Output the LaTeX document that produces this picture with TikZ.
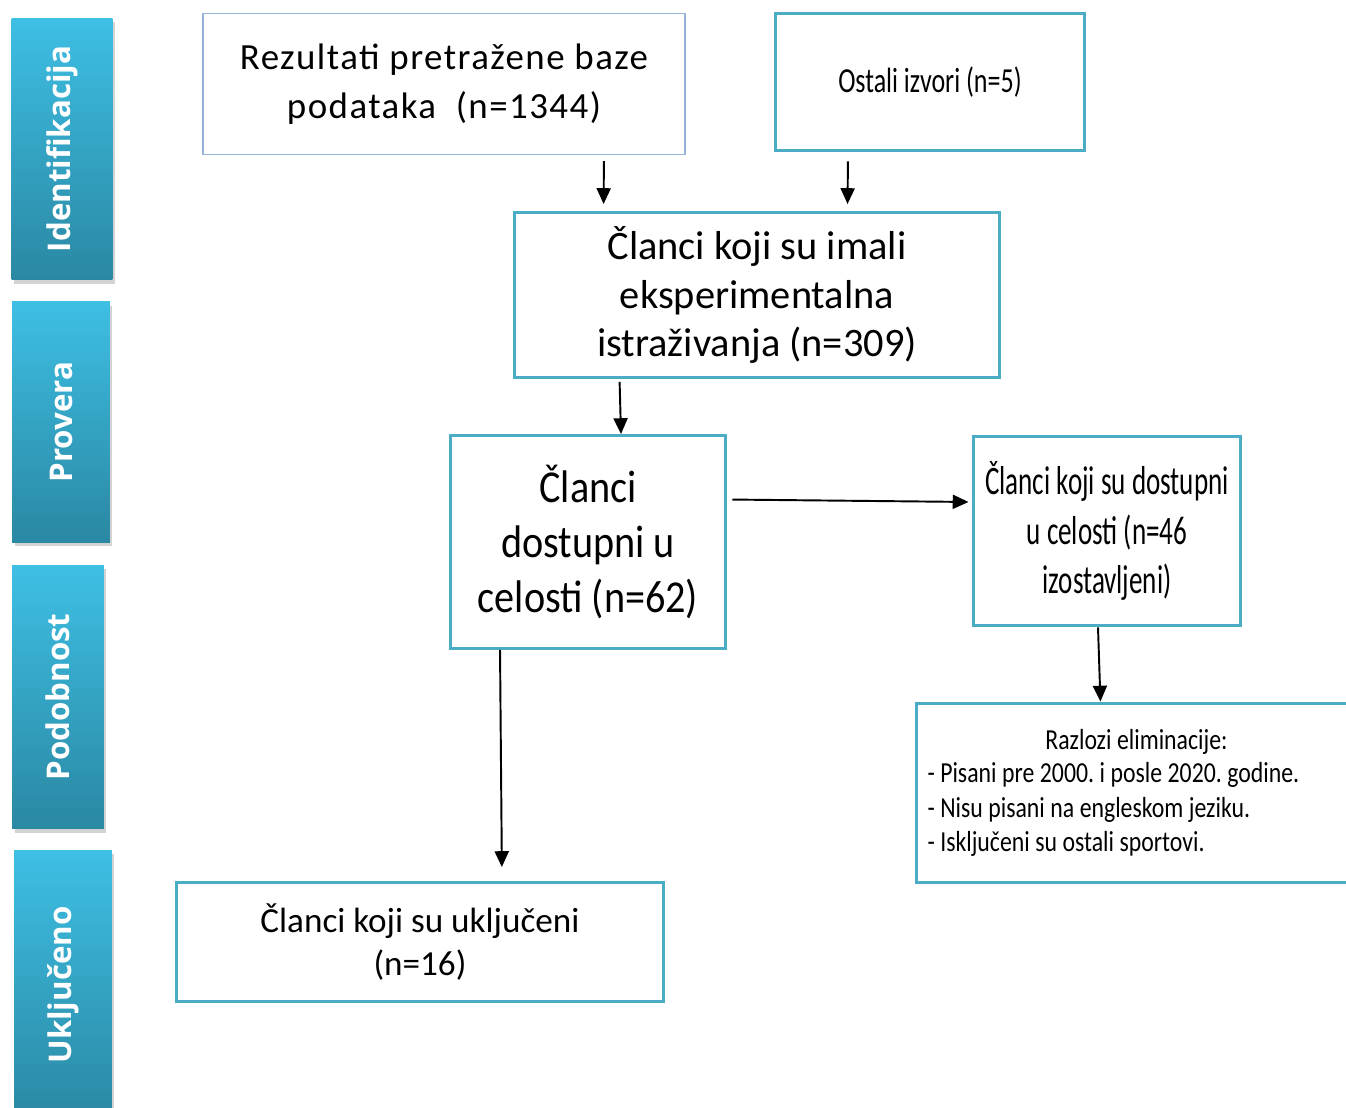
\documentclass[tikz,border=0pt]{standalone}
\usepackage{fontspec}
\setmainfont{Carlito}
\newfontfamily\wideCal[LetterSpace=4]{Carlito}
\newfontfamily\narrowCal[FakeStretch=0.74]{Carlito}
\newfontfamily\listCal[FakeStretch=0.82]{Carlito}
\newfontfamily\slimCal[FakeStretch=0.67]{Carlito}
\newfontfamily\tallCal[FakeStretch=0.88]{Carlito}
\newfontfamily\barfont{Open Sans}
\usetikzlibrary{arrows,arrows.meta,shadows}
\definecolor{boxblue}{HTML}{4BACC6}
\definecolor{paleblue}{HTML}{95B3D7}
\definecolor{bartop}{HTML}{3EBFE4}
\definecolor{barbot}{HTML}{2A88A3}

\begin{document}
\begin{tikzpicture}[x=0.02cm,y=-0.02cm]
	\tikzset{box/.style = {shape=rectangle,draw=boxblue,line width=1.7pt,
			align=center,inner sep=0pt}}
	\tikzset{stage/.style = {shape=rectangle,rotate=90,top color=bartop,
			bottom color=barbot,text=white,inner sep=0pt,
			drop shadow={opacity=0.35,shadow xshift=0.5mm,shadow yshift=-0.8mm},
			font=\barfont\bfseries\fontsize{17.8}{21}\selectfont}}
	\tikzset{edge/.style = {->,> = {Triangle[width=8pt,length=9pt]},line width=1.1pt}}
	\useasboundingbox (0,0) rectangle (1346,1108);
	% stages
	\node[stage,minimum width=5.24cm,minimum height=2.02cm] (ident) at (62,149) {Identifikacija};
	\node[stage,minimum width=4.82cm,minimum height=1.96cm] (prov) at (61,422) {Provera};
	\node[stage,minimum width=5.28cm,minimum height=1.84cm] (podob) at (58,697) {Podobnost};
	\node[stage,minimum width=5.4cm,minimum height=1.96cm] (uklj) at (63,985) {Uključeno};
	% boxes
	\node[box,draw=paleblue,line width=0.8pt,minimum width=9.64cm,minimum height=2.82cm,
		font=\wideCal\fontsize{21}{28}\selectfont] (rez) at (444,84)
		{Rezultati pretražene baze\\podataka~~(n=1344)};
	\node[box,minimum width=6.2cm,minimum height=2.76cm,
		font=\narrowCal\fontsize{20}{24}\selectfont] (ostali) at (930,82) {Ostali izvori (n=5)};
	\node[box,minimum width=9.7cm,minimum height=3.3cm,
		font=\fontsize{23}{27.5}\selectfont] (eksp) at (757,295)
		{Članci koji su imali\\eksperimentalna\\istraživanja (n=309)};
	\node[box,minimum width=5.52cm,minimum height=4.26cm,
		font=\tallCal\fontsize{26}{31.5}\selectfont] (dost) at (588,542)
		{Članci\\dostupni u\\celosti (n=62)};
	\node[box,minimum width=5.36cm,minimum height=3.8cm,
		font=\slimCal\fontsize{23}{28}\selectfont] (izost) at (1107,531)
		{Članci koji su dostupni\\u celosti (n=46\\izostavljeni)};
	\node[box,anchor=west,inner xsep=0.22cm,text width=8.36cm,minimum height=3.6cm,align=left,
		font=\listCal\fontsize{16.5}{19.8}\selectfont,
		execute at begin node={\spaceskip=0.19em\xspaceskip=0.19em\relax}] (razl) at (915,793)
		{\makebox[\linewidth]{Razlozi eliminacije:}\\[-1pt]
		- Pisani pre 2000. i posle 2020. godine.\\
		- Nisu pisani na engleskom jeziku.\\
		- Isključeni su ostali sportovi.};
	\node[box,minimum width=9.76cm,minimum height=2.38cm,
		font=\fontsize{20}{24.5}\selectfont] (ukl) at (420,942)
		{Članci koji su uključeni\\(n=16)};
	% edges
	\draw[edge,shorten <=0.12cm,shorten >=0.14cm] ([xshift=3.2cm]rez.south) -- ([xshift=-3.07cm]eksp.north);
	\draw[edge,shorten <=0.18cm,shorten >=0.14cm] ([xshift=-1.64cm]ostali.south) -- ([xshift=1.81cm]eksp.north);
	\draw[edge,shorten <=0.06cm] ([xshift=-2.75cm]eksp.south) -- ([xshift=0.66cm]dost.north);
	\draw[edge,shorten <=0.1cm,shorten >=0.06cm] ([yshift=0.85cm]dost.east) -- ([yshift=0.58cm]izost.west);
	\draw[edge] ([xshift=-0.18cm]izost.south) -- ([xshift=-0.72cm]razl.north);
	\draw[edge,shorten >=0.28cm] ([xshift=-1.76cm]dost.south) -- ([xshift=1.64cm]ukl.north);
\end{tikzpicture}
\end{document}
